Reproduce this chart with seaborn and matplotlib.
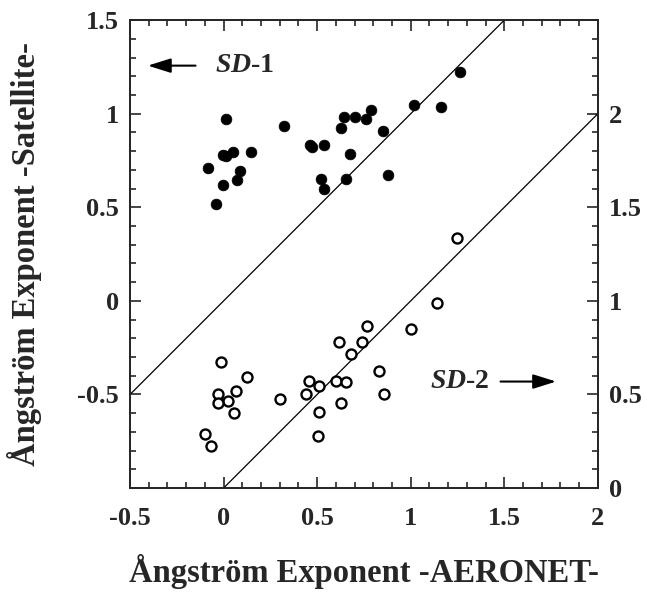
import numpy as np
import pandas as pd
import matplotlib
matplotlib.use("Agg")
import matplotlib.pyplot as plt
from matplotlib.ticker import MultipleLocator
import seaborn as sns

# SD-1 (left axis, filled)
sd1_x = [1.264, 1.020, 1.161, 0.789, 0.702, 0.644, 0.761, 0.011, 0.324, 0.626,
         0.853, 0.461, 0.472, 0.536, 0.676, 0.149, 0.052, -0.005, 0.014, -0.083,
         0.085, 0.074, -0.004, 0.521, 0.536, 0.653, 0.876, -0.041]
sd1_y = [1.222, 1.048, 1.034, 1.021, 0.982, 0.982, 0.972, 0.972, 0.933, 0.922,
         0.910, 0.833, 0.823, 0.833, 0.784, 0.794, 0.794, 0.780, 0.773, 0.709,
         0.695, 0.645, 0.619, 0.649, 0.599, 0.649, 0.672, 0.518]
# SD-2 (right axis, open)
sd2_x = [1.246, 1.140, 0.764, 1.002, 0.617, 0.741, 0.681, -0.012, 0.126, 0.828,
         0.454, 0.603, 0.656, 0.512, 0.067, -0.028, 0.441, 0.856, 0.302, 0.025,
         -0.028, 0.628, 0.053, 0.512, -0.099, 0.502, -0.065]
sd2_y = [1.335, 0.989, 0.865, 0.851, 0.778, 0.778, 0.714, 0.676, 0.592, 0.624,
         0.574, 0.574, 0.564, 0.543, 0.518, 0.505, 0.505, 0.505, 0.477, 0.466,
         0.452, 0.456, 0.403, 0.404, 0.291, 0.278, 0.225]
line1 = [-0.5, 1.5]
line2 = [0.0, 2.0]
x_ticks = [-0.5, 0, 0.5, 1, 1.5, 2]
left_ticks = [-0.5, 0, 0.5, 1, 1.5]
right_ticks = [0, 0.5, 1, 1.5, 2]

sns.set_style("ticks")
plt.rcParams['font.family'] = ['Liberation Serif', 'DejaVu Serif']
plt.rcParams['font.weight'] = 'bold'
plt.rcParams['mathtext.fontset'] = 'custom'
plt.rcParams['mathtext.it'] = 'Liberation Serif:italic:bold'
plt.rcParams['mathtext.rm'] = 'Liberation Serif:bold'
plt.rcParams['mathtext.bf'] = 'Liberation Serif:bold'

fig = plt.figure(figsize=(6.47, 5.93), dpi=100)
ax = fig.add_axes([0.201, 0.177, 0.723, 0.789])
ax2 = ax.twinx()

df1 = pd.DataFrame({"x": sd1_x, "y": sd1_y})
df2 = pd.DataFrame({"x": sd2_x, "y": sd2_y})

sns.lineplot(x=line1, y=line1, ax=ax, color="black", lw=0.9)
sns.scatterplot(data=df1, x="x", y="y", ax=ax, color="black", s=60,
                edgecolor="black", linewidth=0.5, zorder=3)
sns.lineplot(x=line2, y=line2, ax=ax2, color="black", lw=0.9)
sns.scatterplot(data=df2, x="x", y="y", ax=ax2, facecolor="white", s=52,
                edgecolor="black", linewidth=1.7, zorder=3)

ax.set_xlim(-0.5, 2)
ax.set_ylim(-1, 1.5)
ax2.set_ylim(0, 2.5)

ax.set_xticks(x_ticks)
ax.set_xticklabels(["-0.5", "0", "0.5", "1", "1.5", "2"])
ax.set_yticks(left_ticks)
ax.set_yticklabels(["-0.5", "0", "0.5", "1", "1.5"])
ax2.set_yticks(right_ticks)
ax2.set_yticklabels(["0", "0.5", "1", "1.5", "2"])
ax.xaxis.set_minor_locator(MultipleLocator(0.1))
ax.yaxis.set_minor_locator(MultipleLocator(0.1))
ax2.yaxis.set_minor_locator(MultipleLocator(0.1))

ax.tick_params(axis="x", which="both", direction="in", top=True, bottom=True,
               labelsize=19, pad=14, width=1.2)
ax.tick_params(axis="y", which="both", direction="in", left=True, right=False,
               labelsize=19, pad=8, width=1.2)
ax2.tick_params(axis="y", which="both", direction="in", right=True, left=False,
                labelsize=19, pad=8, width=1.2)
for a in (ax, ax2):
    a.tick_params(which="major", length=8)
    a.tick_params(which="minor", length=4)
    for sp in a.spines.values():
        sp.set_linewidth(1.3)
        sp.set_visible(True)

ax.set_xlabel("Ångström Exponent -AERONET-", fontsize=23.5, fontweight="bold", labelpad=17)
ax.set_ylabel("Ångström Exponent -Satellite-", fontsize=23.5, fontweight="bold", labelpad=25)
ax2.set_ylabel("")

# annotations
arrow = dict(arrowstyle="-|>,head_length=0.7,head_width=0.22", color="black",
             lw=1.5, mutation_scale=20, shrinkA=0, shrinkB=0)
ax.annotate("", xy=(-0.405, 1.257), xytext=(-0.15, 1.257), arrowprops=arrow)
ax.text(-0.045, 1.257, "$\\mathit{SD}$-1", fontsize=20, fontweight="bold",
        va="center", ha="left")
ax.text(1.105, -0.431, "$\\mathit{SD}$-2", fontsize=20, fontweight="bold",
        va="center", ha="left")
ax.annotate("", xy=(1.777, -0.431), xytext=(1.48, -0.431), arrowprops=arrow)

fig.savefig("out.png", dpi=100)
